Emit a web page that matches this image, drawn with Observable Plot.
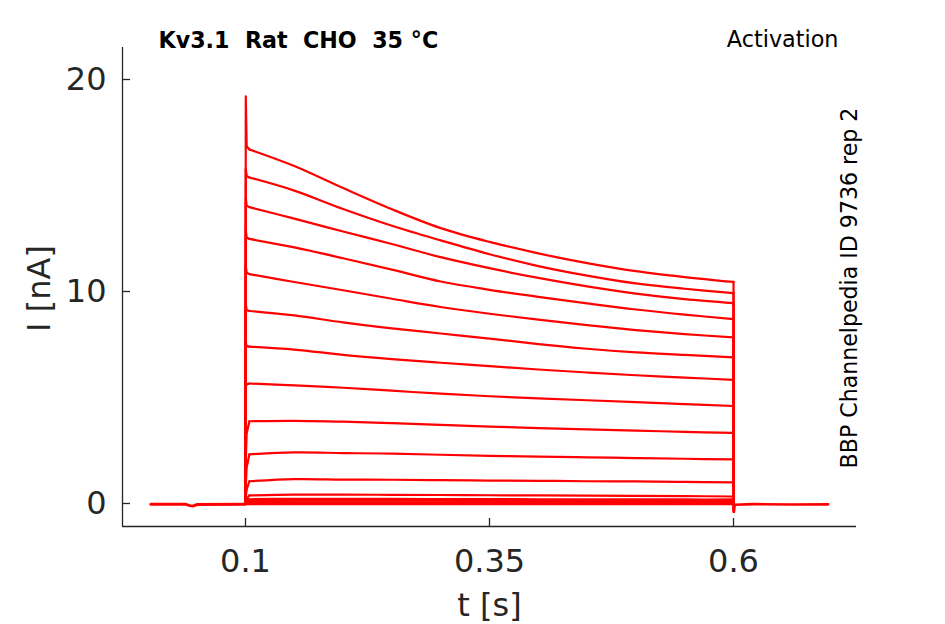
<!DOCTYPE html>
<html>
<head>
<meta charset="utf-8">
<script src="https://cdn.jsdelivr.net/npm/d3@7"></script>
<script src="https://cdn.jsdelivr.net/npm/@observablehq/plot@0.6"></script>
<style>
  html, body { margin: 0; padding: 0; background: #fff; }
</style>
</head>
<body>
<div id="chart"></div>
<script>
// ---- data ----
const titleText = "Kv3.1  Rat  CHO  35 °C";
const protocolText = "Activation";
const sourceText = "BBP Channelpedia ID 9736 rep 2";
const xLabel = "t [s]";
const yLabel = "I [nA]";

const xTicks = [0.1, 0.35, 0.6];
const xTickLabels = ["0.1", "0.35", "0.6"];
const yTicks = [0, 10, 20];
const yTickLabels = ["0", "10", "20"];
const xDomain = [-0.026, 0.726];
const yDomain = [-1.085, 21.51];

// holding period before the step (all traces overlap)
const preTimes  = [0.003, 0.039, 0.043, 0.046, 0.050, 0.0999];
const preValues = [-0.04, -0.04, -0.10, -0.12, -0.05, -0.03];

// after the step
const tailTimes  = [0.6004, 0.6012, 0.62, 0.66, 0.697];
const tailValues = [-0.40, -0.06, -0.03, -0.05, -0.04];

// sampled times during the depolarising step
const stepTimes = [0.1, 0.1003, 0.1012, 0.104, 0.15, 0.2, 0.25, 0.3, 0.35, 0.4, 0.45, 0.5, 0.55, 0.6, 0.6004];

// current (nA) of each sweep at stepTimes
const sweep1  = [0, 19.2, 16.85, 16.70, 15.92, 14.88, 13.88, 12.99, 12.34, 11.80, 11.34, 10.96, 10.68, 10.45, -0.40];
const sweep2  = [0, 15.8, 15.45, 15.38, 14.76, 13.89, 13.10, 12.41, 11.76, 11.20, 10.75, 10.38, 10.13, 9.92, -0.40];
const sweep3  = [0, 14.4, 14.05, 13.98, 13.44, 12.83, 12.24, 11.62, 11.10, 10.64, 10.24, 9.90, 9.64, 9.45, -0.40];
const sweep4  = [0, 12.9, 12.55, 12.48, 12.08, 11.57, 11.03, 10.47, 10.08, 9.75, 9.44, 9.15, 8.91, 8.70, -0.40];
const sweep5  = [0, 11.2, 10.88, 10.82, 10.45, 10.06, 9.66, 9.27, 8.95, 8.67, 8.41, 8.18, 7.99, 7.84, -0.35];
const sweep6  = [0, 9.4, 9.12, 9.08, 8.87, 8.54, 8.26, 8.02, 7.78, 7.52, 7.30, 7.13, 7.01, 6.89, -0.35];
const sweep7  = [0, 7.6, 7.42, 7.40, 7.26, 7.01, 6.81, 6.64, 6.48, 6.32, 6.18, 6.05, 5.94, 5.83, -0.30];
const sweep8  = [0, 5.5, 5.62, 5.66, 5.57, 5.46, 5.32, 5.18, 5.06, 4.96, 4.87, 4.78, 4.69, 4.60, -0.30];
const sweep9  = [0, 2.0, 3.30, 3.88, 3.90, 3.86, 3.79, 3.71, 3.63, 3.56, 3.50, 3.44, 3.38, 3.33, -0.25];
const sweep10 = [0, 0.8, 1.70, 2.32, 2.41, 2.38, 2.35, 2.30, 2.25, 2.21, 2.18, 2.14, 2.11, 2.08, -0.20];
const sweep11 = [0, 0.3, 0.65, 1.05, 1.15, 1.13, 1.12, 1.10, 1.08, 1.07, 1.05, 1.04, 1.02, 1.00, -0.15];
const sweep12 = [0, 0.10, 0.22, 0.38, 0.42, 0.42, 0.41, 0.40, 0.39, 0.38, 0.37, 0.36, 0.35, 0.33, -0.10];
const sweep13 = [0, 0.05, 0.12, 0.20, 0.22, 0.22, 0.22, 0.21, 0.21, 0.20, 0.20, 0.20, 0.19, 0.19, -0.08];
const sweep14 = [0, 0.03, 0.07, 0.12, 0.13, 0.13, 0.13, 0.13, 0.12, 0.12, 0.12, 0.12, 0.11, 0.11, -0.06];
const sweep15 = [0, 0.02, 0.04, 0.06, 0.06, 0.06, 0.06, 0.06, 0.06, 0.05, 0.05, 0.05, 0.05, 0.05, -0.05];
const sweep16 = [0, 0.01, 0.02, 0.02, 0.02, 0.02, 0.02, 0.02, 0.02, 0.02, 0.02, 0.02, 0.02, 0.02, -0.04];
const sweep17 = [-0.03, -0.03, -0.03, -0.03, -0.03, -0.03, -0.03, -0.03, -0.03, -0.03, -0.03, -0.03, -0.03, -0.03, -0.04];

const sweeps = [sweep1, sweep2, sweep3, sweep4, sweep5, sweep6, sweep7, sweep8, sweep9,
                sweep10, sweep11, sweep12, sweep13, sweep14, sweep15, sweep16, sweep17];

// ---- tables for Plot ----
// body of the step (0.104 … 0.6 s) drawn smooth; onset & offset transients drawn straight
const bodyStart = stepTimes.indexOf(0.104), bodyEnd = stepTimes.indexOf(0.6);
const allRows = sweeps.flatMap((vals, k) => stepTimes.map((t, j) => ({t, I: vals[j], sweep: k, j})));
const bodyRows = allRows.filter(d => d.j >= bodyStart && d.j <= bodyEnd);
const onsetRows = allRows.filter(d => d.j <= bodyStart);
const offsetRows = allRows.filter(d => d.j >= bodyEnd);
const preRows = preTimes.map((t, j) => ({t, I: preValues[j]}));
const tailRows = tailTimes.map((t, j) => ({t, I: tailValues[j]}));

const W = 945, H = 624;
const mL = 122, mR = 89, mT = 47, mB = 98;
const innerW = W - mL - mR, innerH = H - mT - mB;
const red = "#ff0000";
const axisColor = "#262626";
const traceStyle = {x: "t", y: "I", z: "sweep", stroke: red, strokeWidth: 2.2, strokeLinejoin: "round", strokeLinecap: "round"};

const chart = Plot.plot({
  width: W,
  height: H,
  marginLeft: mL,
  marginRight: mR,
  marginTop: mT,
  marginBottom: mB,
  style: {fontFamily: "DejaVu Sans", background: "white", overflow: "visible"},
  x: {domain: xDomain, label: null},
  y: {domain: yDomain, label: null},
  marks: [
    // axis lines
    Plot.ruleX([xDomain[0]], {stroke: axisColor, strokeWidth: 1.3}),
    Plot.ruleY([yDomain[0]], {stroke: axisColor, strokeWidth: 1.3}),
    // inward tick marks
    Plot.tickX(xTicks, {x: d => d, insetTop: innerH - 8, stroke: axisColor, strokeWidth: 1.3}),
    Plot.tickY(yTicks, {y: d => d, insetRight: innerW - 8, stroke: axisColor, strokeWidth: 1.3}),
    // tick labels
    Plot.axisX(xTicks, {tickSize: 0, tickPadding: 23, fontSize: 32, fill: axisColor,
      tickFormat: d => xTickLabels[xTicks.indexOf(d)], label: null}),
    Plot.axisY(yTicks, {tickSize: 0, tickPadding: 16, fontSize: 32, fill: axisColor,
      tickFormat: d => yTickLabels[yTicks.indexOf(d)], label: null}),
    // traces
    Plot.line(preRows, {x: "t", y: "I", stroke: red, strokeWidth: 3}),
    Plot.line(tailRows, {x: "t", y: "I", stroke: red, strokeWidth: 2.6}),
    Plot.line(onsetRows, {...traceStyle, curve: "linear"}),
    Plot.line(offsetRows, {...traceStyle, curve: "linear"}),
    Plot.line(bodyRows, {...traceStyle, curve: "catmull-rom"}),
    // texts
    Plot.text([xLabel], {frameAnchor: "bottom", dy: 89, lineAnchor: "bottom", fontSize: 32, fill: axisColor}),
    Plot.text([yLabel], {frameAnchor: "left", dx: -73, dy: 1.5, rotate: -90, textAnchor: "middle",
      lineAnchor: "bottom", fontSize: 32, fill: axisColor}),
    Plot.text([titleText], {frameAnchor: "top-left", dx: 36, dy: 0, textAnchor: "start", lineAnchor: "bottom",
      fontSize: 22.2, fontWeight: "bold", fill: "#000"}),
    Plot.text([protocolText], {frameAnchor: "top-right", dx: -18, dy: -1, textAnchor: "end", lineAnchor: "bottom",
      fontSize: 22.3, fill: "#000"}),
    Plot.text([sourceText], {frameAnchor: "right", dx: 0.5, dy: 1, rotate: -90, textAnchor: "middle", lineAnchor: "bottom",
      fontSize: 22.1, fill: "#000"})
  ]
});
document.getElementById("chart").appendChild(chart);
</script>
</body>
</html>
